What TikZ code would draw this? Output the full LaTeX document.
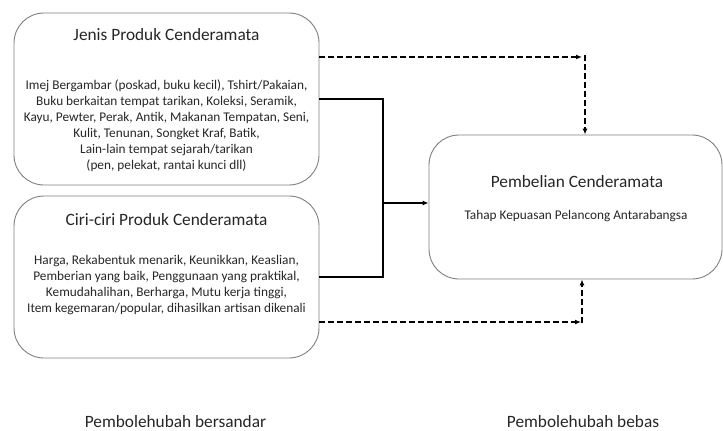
\documentclass[tikz,border=0pt]{standalone}
\usepackage{fontspec}
\setmainfont{Carlito}
\usetikzlibrary{arrows.meta}
\definecolor{txt}{HTML}{262626}
\definecolor{edge}{HTML}{7F7F7F}
\tikzset{
  box/.style={draw=edge, line width=0.9pt, rounded corners=30pt, inner sep=0pt},
  ttl/.style={text=txt, font=\fontsize{17.3}{20}\selectfont, inner sep=0pt},
  body/.style={text=txt, font=\fontsize{13.3}{16}\selectfont, align=center, inner sep=0pt},
  lbl/.style={text=txt, font=\fontsize{17.3}{20}\selectfont, inner sep=0pt, anchor=base},
  conn/.style={line width=1.6pt, black},
  dconn/.style={line width=1.6pt, black, dash pattern=on 6pt off 3pt},
  tip/.style={-{Latex[length=6pt,width=5pt]}}
}
\begin{document}
\begin{tikzpicture}[x=1pt, y=-1pt]
\useasboundingbox (0,0) rectangle (723,431);
% boxes
\node[box, minimum width=305pt, minimum height=172pt] (box1) at (166.5,99) {};
\node[box, minimum width=305pt, minimum height=162pt] (box2) at (166.5,277) {};
\node[box, minimum width=293pt, minimum height=144pt] (box3) at (575.5,207) {};
% texts
\node[ttl] (t1) at (166.5,35) {Jenis Produk Cenderamata};
\node[body] (b1) at (166.5,125.5) {Imej Bergambar (poskad, buku kecil), Tshirt/Pakaian,\\
Buku berkaitan tempat tarikan, Koleksi, Seramik,\\
Kayu, Pewter, Perak, Antik, Makanan Tempatan, Seni,\\
Kulit, Tenunan, Songket Kraf, Batik,\\
Lain-lain tempat sejarah/tarikan\\
(pen, pelekat, rantai kunci dll)};
\node[ttl] (t2) at (166.5,220) {Ciri-ciri Produk Cenderamata};
\node[body] (b2) at (166.5,285.5) {Harga, Rekabentuk menarik, Keunikkan, Keaslian,\\
Pemberian yang baik, Penggunaan yang praktikal,\\
Kemudahalihan, Berharga, Mutu kerja tinggi,\\
Item kegemaran/popular, dihasilkan artisan dikenali};
\node[ttl] (t3) at (577,182) {Pembelian Cenderamata};
\node[body] (b3) at (576,216) {Tahap Kepuasan Pelancong Antarabangsa};
\node[lbl] (l1) at (175.5,427) {Pembolehubah bersandar};
\node[lbl] (l2) at (583,427) {Pembolehubah bebas};
% coordinates
\coordinate (dA) at (582,57);
\coordinate (dB) at (585,55);
\coordinate (j1) at (383,99);
\coordinate (j2) at (383,277);
\coordinate (j3) at (383,203);
\coordinate (dC) at (581,322);
\coordinate (dD) at (582,323);
% connectors
\draw[dconn, tip] (box1.east |- dA) -- (dA);
\draw[dconn, tip] (dB) -- (dB |- box3.north);
\draw[conn] (box1.east |- j1) -- (j1) -- (j2) -- (box2.east |- j2);
\draw[conn, tip] (j3) -- (box3.west |- j3);
\draw[dconn, tip] (box2.east |- dC) -- (dC);
\draw[dconn, tip] (dD) -- (dD |- box3.south);
\end{tikzpicture}
\end{document}
